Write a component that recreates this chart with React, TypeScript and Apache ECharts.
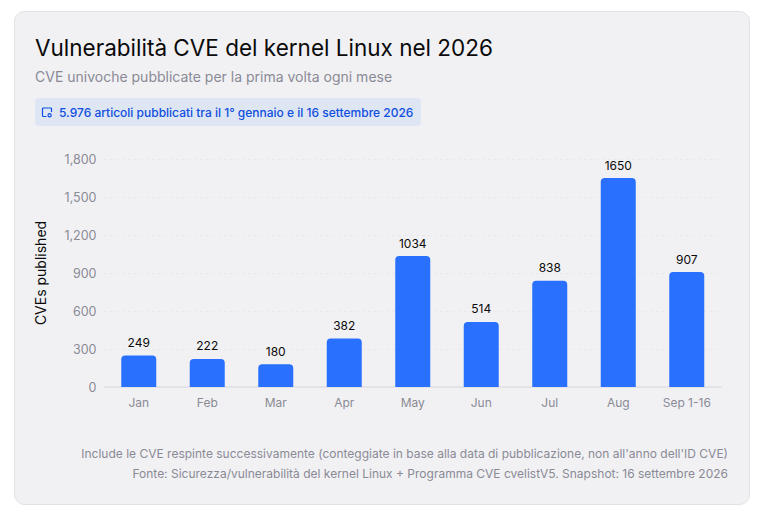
import React, { useEffect, useRef } from "react";
import * as echarts from "echarts";

const categories = ["Jan", "Feb", "Mar", "Apr", "May", "Jun", "Jul", "Aug", "Sep 1-16"];
const cves = [249, 222, 180, 382, 1034, 514, 838, 1650, 907];
const titleText = "Vulnerabilità CVE del kernel Linux nel 2026";
const subtitleText = "CVE univoche pubblicate per la prima volta ogni mese";
const badgeText = "5.976 articoli pubblicati tra il 1° gennaio e il 16 settembre 2026";
const noteLines = [
  "Include le CVE respinte successivamente (conteggiate in base alla data di pubblicazione, non all'anno dell'ID CVE)",
  "Fonte: Sicurezza/vulnerabilità del kernel Linux + Programma CVE cvelistV5. Snapshot: 16 settembre 2026",
];
const FONT = "Inter";

echarts.graphic.registerShape(
  "badgeIcon",
  echarts.graphic.extendPath(
    "M5 1H1.5Q0.5 1 0.5 2V8.5Q0.5 9.5 1.5 9.5H4.5M9.5 5V2Q9.5 1 8.5 1H5M6 8.2a1.6 1.6 0 1 0 3.2 0a1.6 1.6 0 1 0 -3.2 0",
    {}
  ) as any
);

export default function App() {
  const ref = useRef<HTMLDivElement>(null);
  useEffect(() => {
    const chart = echarts.init(ref.current!, undefined, { renderer: "svg" });
    chart.setOption({
      animation: false,
      backgroundColor: "#ffffff",
      graphic: [
        { type: "rect", z: -10, shape: { x: 14.5, y: 11.5, width: 735, height: 493, r: 10 }, style: { fill: "#f1f1f4", stroke: "#e2e2e6", lineWidth: 1 } },
        { type: "text", x: 35, y: 47, style: { text: titleText, font: `400 22.5px ${FONT}`, fill: "#0a0a0a", textVerticalAlign: "middle" } },
        { type: "text", x: 35, y: 76, style: { text: subtitleText, font: `400 14px ${FONT}`, fill: "#8a8a94", textVerticalAlign: "middle" } },
        { type: "rect", z: -5, shape: { x: 35, y: 98, width: 386, height: 28, r: 4 }, style: { fill: "#dee5f3" } },
        { type: "badgeIcon", x: 42, y: 107, scaleX: 1, scaleY: 1, style: { fill: "none", stroke: "#0f4fe0", lineWidth: 1.2 } },
        { type: "text", x: 59, y: 112, style: { text: badgeText, font: `500 12px ${FONT}`, fill: "#0f4fe0", textVerticalAlign: "middle" } },
        { type: "text", x: 728, y: 453, style: { text: noteLines[0], font: `400 12px ${FONT}`, fill: "#8a8a94", textAlign: "right", textVerticalAlign: "middle" } },
        { type: "text", x: 728, y: 473, style: { text: noteLines[1], font: `400 12px ${FONT}`, fill: "#8a8a94", textAlign: "right", textVerticalAlign: "middle" } },
      ],
      grid: { left: 104.5, right: 53, top: 159, bottom: 131 },
      xAxis: {
        type: "category",
        data: categories,
        axisTick: { show: false },
        axisLine: { lineStyle: { color: "#dfdfe4", width: 1.5 } },
        axisLabel: { color: "#8a8a94", fontFamily: FONT, fontSize: 12, margin: 9 },
      },
      yAxis: {
        type: "value",
        min: 0,
        max: 1800,
        interval: 300,
        name: "CVEs published",
        nameLocation: "middle",
        nameGap: 57,
        nameTextStyle: { color: "#0a0a0a", fontFamily: FONT, fontSize: 14 },
        axisLine: { show: false },
        axisTick: { show: false },
        axisLabel: {
          color: "#8a8a94",
          fontFamily: FONT,
          fontSize: 12.5,
          margin: 8,
          formatter: (v: number) => v.toLocaleString("en-US"),
        },
        splitLine: { lineStyle: { color: "#e6e6ea", type: [2, 4], width: 1 } },
      },
      series: [
        {
          type: "bar",
          data: cves,
          barWidth: 35,
          itemStyle: { color: "#2970ff", borderRadius: [4, 4, 0, 0] },
          label: { show: true, position: "top", distance: 7, color: "#0a0a0a", fontFamily: FONT, fontSize: 12 },
        },
      ],
    });
    return () => chart.dispose();
  }, []);
  return <div ref={ref} style={{ position: "fixed", left: 0, top: 0, width: 774, height: 518 }} />;
}
